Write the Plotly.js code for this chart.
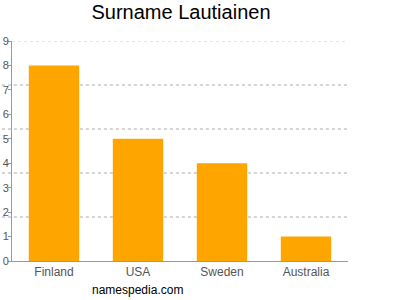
<!DOCTYPE html>
<html><head><meta charset="utf-8">
<script src="https://cdn.plot.ly/plotly-3.0.1.min.js"></script>
<style>html,body{margin:0;padding:0;background:#fff}#c{width:400px;height:300px}</style>
</head><body><div id="c"></div>
<script>
const countries = ["Finland", "USA", "Sweden", "Australia"];
const counts = [8, 5, 4, 1];
const yTicks = [0, 1, 2, 3, 4, 5, 6, 7, 8, 9];
const gridLevels = [1.8, 3.6, 5.4, 7.2];
const titleText = "Surname Lautiainen";
const watermark = "namespedia.com";

const shapes = gridLevels.map(v => ({
  type: "line", xref: "paper", yref: "y", x0: -0.03, x1: 1, y0: v, y1: v,
  line: {color: "#aaaaaa", width: 1, dash: "3px,3px"}, layer: "below"
}));
shapes.push({type: "line", xref: "paper", yref: "y", x0: 0, x1: 1, y0: 9, y1: 9,
  line: {color: "#d0d0d0", width: 1, dash: "3px,3px"}, layer: "below"});

Plotly.newPlot("c", [{
  type: "bar", x: countries, y: counts,
  marker: {color: "#FFA500"}, width: 0.6, hoverinfo: "none"
}], {
  width: 400, height: 300,
  margin: {l: 12, r: 52, t: 41, b: 39, pad: 0},
  paper_bgcolor: "#fff", plot_bgcolor: "#fff",
  font: {family: "Liberation Sans, Arial, sans-serif", color: "#555", size: 11},
  title: {text: titleText, x: 0.4525, xanchor: "center", y: 0.985, yanchor: "top",
    font: {size: 20, color: "#000", family: "Liberation Sans, Arial, sans-serif"}},
  xaxis: {type: "category", range: [-0.5, 3.5], showgrid: false, zeroline: false,
    showline: true, linecolor: "#999", linewidth: 1, ticks: "", tickfont: {size: 12, color: "#555"}},
  yaxis: {range: [0, 9], tickvals: yTicks, showgrid: false, zeroline: false,
    showline: true, linecolor: "#999", linewidth: 1, ticks: "outside", ticklen: 3,
    tickcolor: "#999", tickfont: {size: 11, color: "#555"}, ticklabelstandoff: -3},
  shapes: shapes,
  annotations: [{text: watermark, xref: "paper", yref: "paper", x: 0.3735, y: -0.093,
    xanchor: "center", yanchor: "top", showarrow: false,
    font: {size: 12, color: "#000", family: "Liberation Sans, Arial, sans-serif"}}],
  showlegend: false
}, {staticPlot: true});
</script></body></html>
